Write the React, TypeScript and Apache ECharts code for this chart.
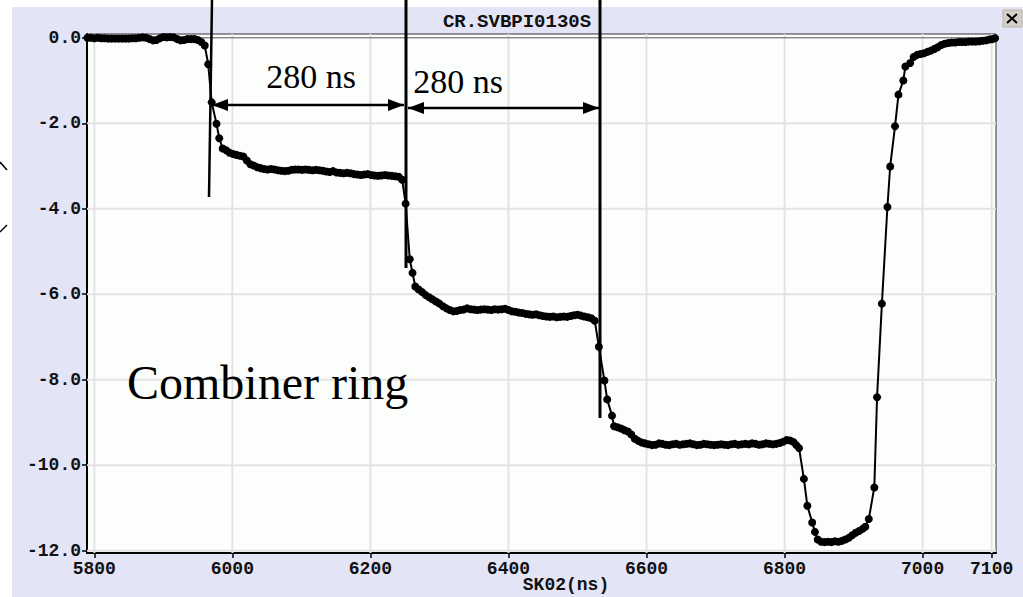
import React, { useEffect, useRef } from "react";
import * as echarts from "echarts";

const TITLE = "CR.SVBPI0130S";
const X_LABEL = "SK02(ns)";
const xTicks = [5800, 6000, 6200, 6400, 6600, 6800, 7000, 7100];
const yTicks = [0, -2, -4, -6, -8, -10, -12];
const X_MIN = 5789.4;
const X_MAX = 7106.3;
const Y_MIN = -12.054;
const Y_MAX = 0.089;

const annotationLabels = ["280 ns", "280 ns"];
const bigLabel = "Combiner ring";

// [time (ns), level]
const trace: [number, number][] = [
  [5790, 0.0], [5795, 0.0], [5800, -0.01], [5805, 0.0], [5810, -0.01], [5815, -0.01], [5820, -0.02],
  [5825, -0.02], [5830, -0.02], [5835, -0.02], [5840, -0.02], [5845, -0.02], [5850, -0.02], [5855, -0.01],
  [5860, -0.01], [5865, 0.0], [5870, 0.01], [5875, 0.0], [5880, -0.03], [5885, -0.06], [5890, -0.05],
  [5895, -0.01], [5900, 0.02], [5905, 0.01], [5910, 0.02], [5915, 0.01], [5920, -0.03], [5925, -0.06],
  [5930, -0.05], [5935, -0.03], [5940, -0.03], [5945, -0.03], [5950, -0.05], [5955, -0.1], [5960, -0.18],
  [5965, -0.62], [5970, -1.51], [5977, -2.01], [5981, -2.35], [5986, -2.59], [5991, -2.63], [5996, -2.69],
  [6001, -2.72], [6006, -2.74], [6011, -2.76], [6016, -2.78], [6021, -2.87], [6026, -2.96], [6031, -2.99],
  [6036, -3.03], [6041, -3.05], [6046, -3.07], [6051, -3.08], [6056, -3.07], [6061, -3.08], [6066, -3.1],
  [6071, -3.11], [6076, -3.12], [6081, -3.11], [6086, -3.09], [6091, -3.08], [6096, -3.08], [6101, -3.09],
  [6106, -3.08], [6111, -3.09], [6116, -3.1], [6121, -3.09], [6126, -3.1], [6131, -3.11], [6136, -3.13],
  [6141, -3.14], [6146, -3.12], [6151, -3.15], [6156, -3.16], [6161, -3.17], [6166, -3.16], [6171, -3.17],
  [6176, -3.19], [6181, -3.2], [6186, -3.21], [6191, -3.2], [6196, -3.19], [6201, -3.21], [6206, -3.22],
  [6211, -3.23], [6216, -3.22], [6221, -3.21], [6226, -3.22], [6231, -3.23], [6236, -3.24], [6241, -3.25],
  [6246, -3.32], [6251, -3.88], [6257, -5.18], [6261, -5.5], [6265, -5.82], [6270, -5.89], [6275, -5.95],
  [6280, -6.02], [6285, -6.07], [6290, -6.12], [6295, -6.17], [6300, -6.22], [6305, -6.28], [6310, -6.33],
  [6315, -6.37], [6320, -6.4], [6325, -6.39], [6330, -6.37], [6335, -6.36], [6340, -6.33], [6345, -6.35],
  [6350, -6.36], [6355, -6.37], [6360, -6.36], [6365, -6.35], [6370, -6.36], [6375, -6.37], [6380, -6.35],
  [6385, -6.36], [6390, -6.35], [6395, -6.34], [6400, -6.37], [6405, -6.4], [6410, -6.41], [6415, -6.43],
  [6420, -6.44], [6425, -6.46], [6430, -6.47], [6435, -6.48], [6440, -6.47], [6445, -6.49], [6450, -6.51],
  [6455, -6.52], [6460, -6.53], [6465, -6.52], [6470, -6.54], [6475, -6.53], [6480, -6.52], [6485, -6.53],
  [6490, -6.51], [6495, -6.49], [6500, -6.48], [6505, -6.5], [6510, -6.52], [6515, -6.54], [6520, -6.56],
  [6525, -6.62], [6531, -7.23], [6539, -8.02], [6543, -8.46], [6550, -8.84], [6553, -9.09], [6558, -9.11],
  [6563, -9.14], [6568, -9.18], [6573, -9.21], [6578, -9.28], [6583, -9.38], [6588, -9.43], [6593, -9.47],
  [6598, -9.49], [6603, -9.51], [6608, -9.53], [6613, -9.52], [6618, -9.49], [6623, -9.5], [6628, -9.52],
  [6633, -9.53], [6638, -9.51], [6643, -9.5], [6648, -9.52], [6653, -9.51], [6658, -9.5], [6663, -9.49],
  [6668, -9.51], [6673, -9.53], [6678, -9.52], [6683, -9.5], [6688, -9.51], [6693, -9.52], [6698, -9.53],
  [6703, -9.52], [6708, -9.51], [6713, -9.52], [6718, -9.53], [6723, -9.51], [6728, -9.5], [6733, -9.52],
  [6738, -9.51], [6743, -9.5], [6748, -9.51], [6753, -9.49], [6758, -9.5], [6763, -9.52], [6768, -9.51],
  [6773, -9.49], [6778, -9.5], [6783, -9.51], [6788, -9.5], [6793, -9.48], [6798, -9.45], [6803, -9.41],
  [6808, -9.42], [6813, -9.46], [6817, -9.53], [6821, -9.6], [6828, -10.32], [6833, -10.95], [6840, -11.34],
  [6844, -11.56], [6848, -11.74], [6853, -11.79], [6858, -11.8], [6863, -11.79], [6868, -11.8], [6873, -11.78],
  [6878, -11.79], [6883, -11.77], [6888, -11.74], [6893, -11.7], [6898, -11.64], [6903, -11.58], [6908, -11.54],
  [6913, -11.49], [6917, -11.44], [6922, -11.26], [6930, -10.52], [6934, -8.41], [6941, -6.22], [6949, -3.96],
  [6953, -3.01], [6960, -2.07], [6965, -1.33], [6972, -1.0], [6975, -0.67], [6982, -0.59], [6987, -0.45],
  [6992, -0.4], [6997, -0.38], [7002, -0.36], [7007, -0.33], [7012, -0.3], [7017, -0.26], [7022, -0.22],
  [7027, -0.17], [7032, -0.14], [7037, -0.12], [7042, -0.11], [7047, -0.11], [7052, -0.1], [7057, -0.1],
  [7062, -0.1], [7067, -0.09], [7072, -0.09], [7077, -0.09], [7082, -0.08], [7087, -0.07], [7092, -0.06],
  [7097, -0.04], [7101, -0.03], [7105, -0.01],
];

export default function App() {
  const ref = useRef<HTMLDivElement>(null);

  useEffect(() => {
    if (!ref.current) return;
    const chart = echarts.init(ref.current, undefined, { renderer: "svg" });

    const gridColor = "#e3e3e3";
    const gridSeries: any[] = [];
    xTicks.forEach((t) => {
      gridSeries.push({
        type: "line",
        data: [[t, Y_MIN], [t, Y_MAX]],
        symbol: "none",
        silent: true,
        z: 1,
        lineStyle: { color: gridColor, width: 2 },
      });
    });
    yTicks.forEach((v) => {
      gridSeries.push({
        type: "line",
        data: [[X_MIN, v], [X_MAX, v]],
        symbol: "none",
        silent: true,
        z: 1,
        lineStyle: { color: v === 0 ? "#555" : gridColor, width: v === 0 ? 1 : 2 },
      });
    });

    const tickFont = {
      fontFamily: "Liberation Mono",
      fontWeight: "bold" as const,
      fontSize: 18,
      color: "#111",
    };

    const A = 100;
    const arrow = (x1: number, x2: number, y: number) => [
      { type: "line", z: A, shape: { x1, y1: y, x2, y2: y }, style: { stroke: "#000", lineWidth: 2.5 } },
      { type: "polygon", z: A, shape: { points: [[x1, y], [x1 + 16, y - 6], [x1 + 16, y + 6]] }, style: { fill: "#000" } },
      { type: "polygon", z: A, shape: { points: [[x2, y], [x2 - 16, y - 6], [x2 - 16, y + 6]] }, style: { fill: "#000" } },
    ];

    chart.setOption({
      animation: false,
      backgroundColor: "#e4e4f7",
      grid: {
        left: 87,
        top: 34,
        width: 909,
        height: 519,
        show: true,
        borderColor: "#333",
        borderWidth: 1,
        backgroundColor: "#fcfefc",
      },
      xAxis: {
        type: "value",
        min: X_MIN,
        max: X_MAX,
        axisLine: { show: true, onZero: false, lineStyle: { color: "#000", width: 2 } },
        axisTick: { show: true, customValues: xTicks, length: 5, lineStyle: { color: "#000", width: 1.5 } },
        axisLabel: { customValues: xTicks, margin: 7, formatter: (v: number) => String(v), ...tickFont },
        splitLine: { show: false },
      },
      yAxis: {
        type: "value",
        min: Y_MIN,
        max: Y_MAX,
        axisLine: { show: true, onZero: false, lineStyle: { color: "#000", width: 2 } },
        axisTick: { show: true, customValues: yTicks, length: 5, lineStyle: { color: "#000", width: 1.5 } },
        axisLabel: {
          customValues: yTicks,
          margin: 6,
          formatter: (v: number) => v.toFixed(1),
          ...tickFont,
        },
        splitLine: { show: false },
      },
      series: [
        ...gridSeries,
        {
          type: "line",
          data: trace,
          symbol: "circle",
          symbolSize: 8,
          showSymbol: true,
          z: 3,
          lineStyle: { color: "#000", width: 2 },
          itemStyle: { color: "#000" },
        },
      ],
      graphic: [
        { type: "rect", z: 50, shape: { x: 0, y: 0, width: 12, height: 597 }, style: { fill: "#fff" } },
        { type: "rect", z: 50, shape: { x: 0, y: 0, width: 1023, height: 7 }, style: { fill: "#fff" } },
        { type: "line", z: 50, shape: { x1: 0, y1: 162, x2: 7, y2: 170 }, style: { stroke: "#000", lineWidth: 1.5 } },
        { type: "line", z: 50, shape: { x1: 0, y1: 232, x2: 7, y2: 225 }, style: { stroke: "#000", lineWidth: 1.5 } },
        {
          type: "text",
          z: 50,
          x: 517,
          y: 22,
          style: {
            text: TITLE,
            fontFamily: "Liberation Mono",
            fontWeight: "bold",
            fontSize: 19,
            fill: "#111",
            align: "center",
            verticalAlign: "middle",
          },
        },
        {
          type: "text",
          z: 50,
          x: 566,
          y: 585,
          style: {
            text: X_LABEL,
            fontFamily: "Liberation Mono",
            fontWeight: "bold",
            fontSize: 18,
            lineHeight: 18,
            fill: "#111",
            align: "center",
            verticalAlign: "middle",
          },
        },
        { type: "rect", z: 50, shape: { x: 1003, y: 10, width: 19, height: 17 }, style: { fill: "#d4d0c8", stroke: "#b8b4ac", lineWidth: 1 } },
        { type: "line", z: 51, shape: { x1: 1007, y1: 14, x2: 1017, y2: 23 }, style: { stroke: "#000", lineWidth: 2 } },
        { type: "line", z: 51, shape: { x1: 1017, y1: 14, x2: 1007, y2: 23 }, style: { stroke: "#000", lineWidth: 2 } },
        // annotation lines
        { type: "line", z: A, shape: { x1: 212, y1: 0, x2: 209, y2: 197 }, style: { stroke: "#000", lineWidth: 2.5 } },
        { type: "line", z: A, shape: { x1: 406, y1: 0, x2: 406, y2: 268 }, style: { stroke: "#000", lineWidth: 3 } },
        { type: "line", z: A, shape: { x1: 600, y1: 0, x2: 600, y2: 418 }, style: { stroke: "#000", lineWidth: 3 } },
        ...arrow(212, 404, 105),
        ...arrow(408, 599, 108),
        {
          type: "text",
          z: A,
          x: 311,
          y: 76.5,
          style: {
            text: annotationLabels[0],
            fontFamily: "Liberation Serif",
            fontSize: 34,
            fill: "#000",
            align: "center",
            verticalAlign: "middle",
          },
        },
        {
          type: "text",
          z: A,
          x: 458,
          y: 81.5,
          style: {
            text: annotationLabels[1],
            fontFamily: "Liberation Serif",
            fontSize: 34,
            fill: "#000",
            align: "center",
            verticalAlign: "middle",
          },
        },
        {
          type: "text",
          z: A,
          x: 127,
          y: 382,
          style: {
            text: bigLabel,
            fontFamily: "Liberation Serif",
            fontSize: 48,
            fill: "#000",
            align: "left",
            verticalAlign: "middle",
          },
        },
      ],
    });

    return () => chart.dispose();
  }, []);

  return (
    <div
      ref={ref}
      style={{ position: "fixed", left: 0, top: 0, width: 1023, height: 597 }}
    />
  );
}
